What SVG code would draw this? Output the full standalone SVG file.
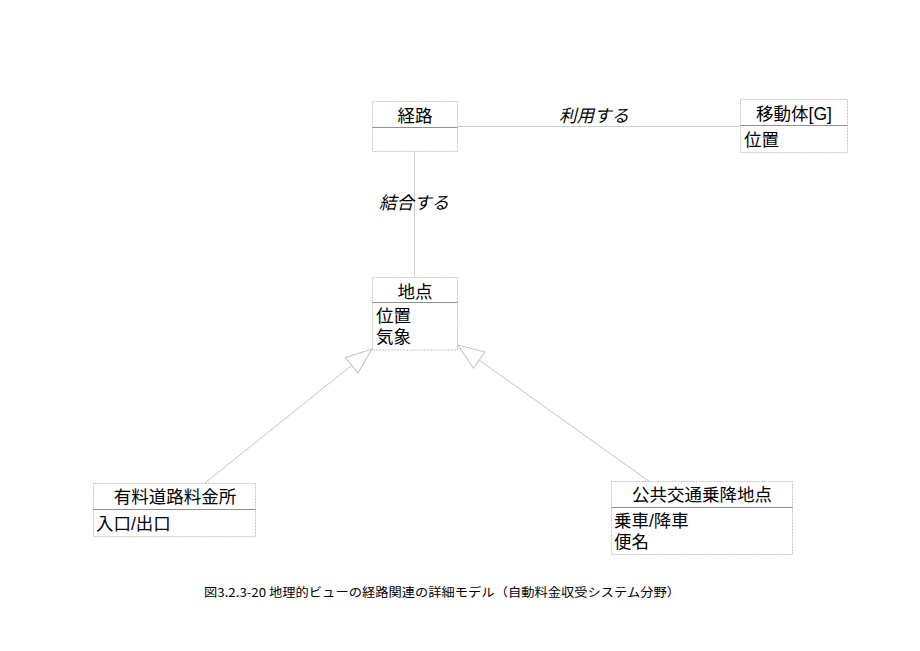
<svg xmlns="http://www.w3.org/2000/svg" width="920" height="651" viewBox="0 0 920 651">
<defs>
<style>
.box{fill:#fff;stroke:#c4c4c4;stroke-width:1;stroke-dasharray:2 1}
.div{stroke:#909090;stroke-width:1.2}
.t{font-family:"Liberation Sans","Noto Sans CJK JP",sans-serif;font-size:17.5px;fill:#000}
.c{text-anchor:middle}
.i{font-style:italic}
.assoc{stroke:#c8d0c8;stroke-width:1;fill:none}
.gen{stroke:#cbbccb;stroke-width:1;fill:none}
.cap{font-family:"Noto Sans CJK JP",sans-serif;font-size:12px;fill:#000}
</style>
<marker id="tri" markerWidth="30" markerHeight="24" refX="27" refY="11" orient="auto" markerUnits="userSpaceOnUse">
<path d="M1,1 L27,11 L1,21 Z" fill="#fff" stroke="#cbbccb" stroke-width="1"/>
</marker>
</defs>
<rect width="920" height="651" fill="#fff"/>
<g id="connectors">
<line class="assoc" x1="457" y1="126.5" x2="740" y2="126.5"/>
<line class="assoc" x1="414.5" y1="151" x2="414.5" y2="277"/>
<line class="gen" x1="205" y1="483" x2="372" y2="349" marker-end="url(#tri)"/>
<line class="gen" x1="650" y1="482" x2="458" y2="345" marker-end="url(#tri)"/>
<text class="t c i" x="594" y="122">利用する</text>
<text class="t c i" x="414" y="209">結合する</text>
</g>
<g id="keiro">
<rect class="box" x="372.5" y="101.5" width="85" height="50"/>
<line class="div" x1="372.5" y1="127.5" x2="457.5" y2="127.5"/>
<text class="t c" x="415" y="122">経路</text>
</g>
<g id="idoutai">
<rect class="box" x="740.5" y="99.5" width="107" height="53"/>
<line class="div" x1="740.5" y1="125.5" x2="847.5" y2="125.5"/>
<text class="t c" x="794" y="120">移動体[G]</text>
<text class="t" x="744" y="146">位置</text>
</g>
<g id="chiten">
<rect class="box" x="372.5" y="277.5" width="85" height="72.5"/>
<line class="div" x1="372.5" y1="302.5" x2="457.5" y2="302.5"/>
<text class="t c" x="415" y="298">地点</text>
<text class="t" x="376" y="322">位置</text>
<text class="t" x="376" y="343">気象</text>
</g>
<g id="ryokinjo">
<rect class="box" x="93.5" y="483.5" width="162" height="53"/>
<line class="div" x1="93.5" y1="509.5" x2="255.5" y2="509.5"/>
<text class="t c" x="175" y="503">有料道路料金所</text>
<text class="t" x="96" y="530">入口/出口</text>
</g>
<g id="koukyou">
<rect class="box" x="611.5" y="481.5" width="181" height="73"/>
<line class="div" x1="611.5" y1="507.5" x2="792.5" y2="507.5"/>
<text class="t c" x="702" y="501">公共交通乗降地点</text>
<text class="t" x="614" y="527">乗車/降車</text>
<text class="t" x="614" y="548">便名</text>
</g>
<text class="cap" x="204" y="597" textLength="476" lengthAdjust="spacingAndGlyphs">図3.2.3-20 地理的ビューの経路関連の詳細モデル（自動料金収受システム分野）</text>
</svg>
